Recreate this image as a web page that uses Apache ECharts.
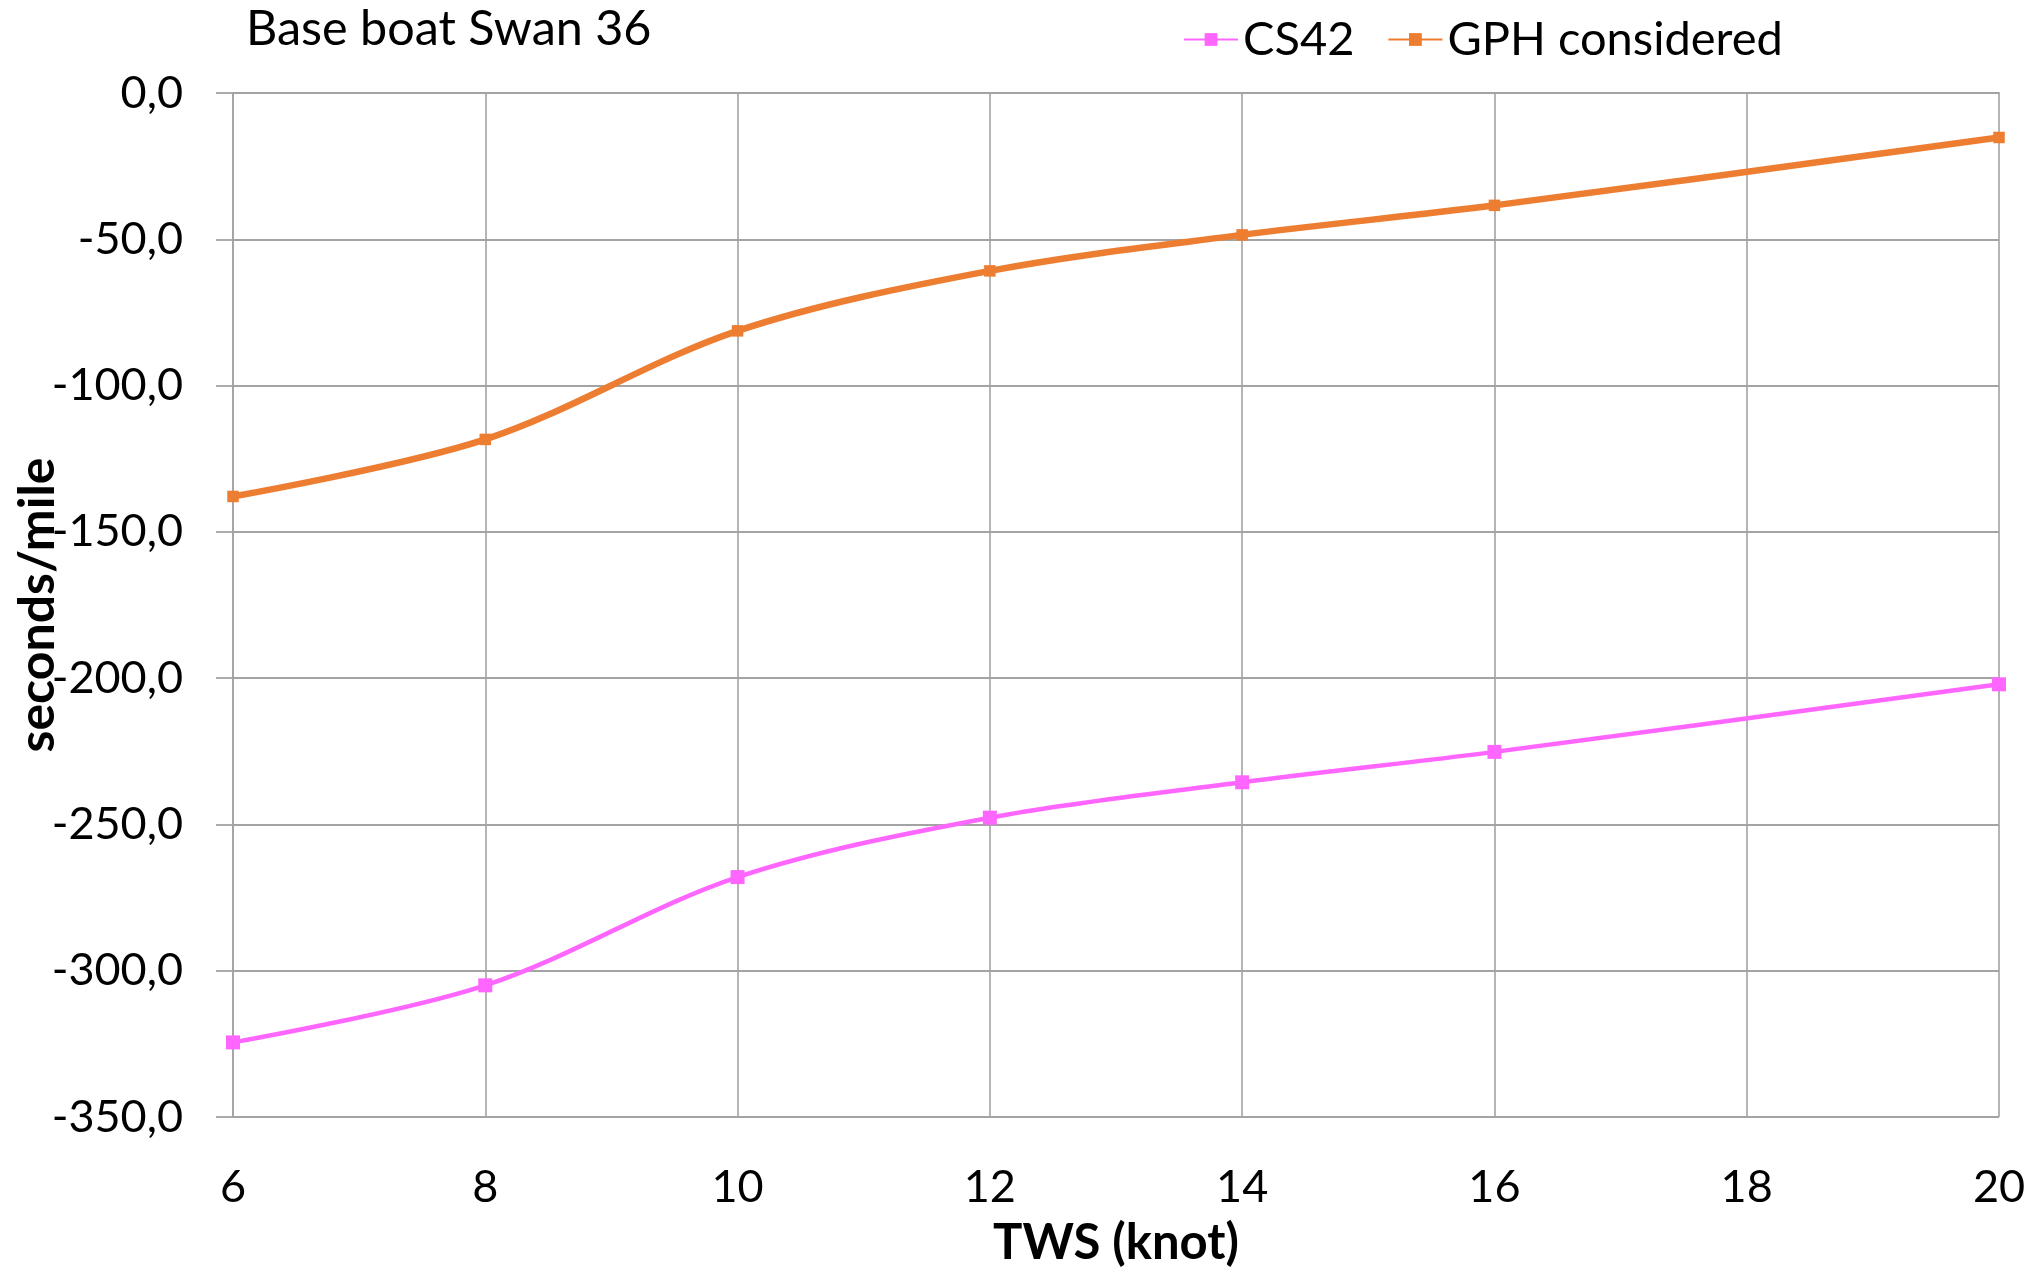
<!DOCTYPE html>
<html>
<head>
<meta charset="utf-8">
<script src="https://cdn.jsdelivr.net/npm/echarts@6/dist/echarts.min.js"></script>
<style>
html,body{margin:0;padding:0;background:#fff;}
#chart{width:2033px;height:1268px;}
</style>
</head>
<body>
<div id="chart"></div>
<script>
const chartTitle = "Base boat Swan 36";
const xName = "TWS (knot)";
const yName = "seconds/mile";
const tws = [6, 8, 10, 12, 14, 16, 20];
const cs42 = [-324.5, -305.0, -268.0, -247.7, -235.6, -225.2, -202.1];
const gphConsidered = [-137.9, -118.4, -81.3, -60.8, -48.5, -38.4, -15.2];
const seriesNames = ["CS42", "GPH considered"];

const FONT = "Lato";
const grid = "#a3a3a3";

const chart = echarts.init(document.getElementById('chart'));
chart.setOption({
  animation: false,
  backgroundColor: '#fff',
  title: {
    text: chartTitle, left: 246, top: 5, padding: 0,
    textStyle: {fontFamily: FONT, fontSize: 48.5, fontWeight: 'normal', color: '#000'}
  },
  legend: {
    left: 1183, top: 16, padding: 0, itemGap: 33, itemWidth: 54, itemHeight: 16,
    data: seriesNames,
    textStyle: {fontFamily: FONT, fontSize: 47, color: '#000'}
  },
  grid: {left: 233, right: 34, top: 93, bottom: 151, containLabel: false, outerBoundsMode: 'none'},
  xAxis: {
    type: 'value', min: 6, max: 20, interval: 2,
    name: xName, nameLocation: 'middle', nameGap: 102, nameMoveOverlap: false,
    nameTextStyle: {fontFamily: FONT, fontSize: 49, fontWeight: 'bold', color: '#000'},
    axisLine: {show: true, lineStyle: {color: grid, width: 1.8}},
    axisTick: {show: false},
    axisLabel: {fontFamily: FONT, fontSize: 45, color: '#000', margin: 48},
    splitLine: {show: true, lineStyle: {color: grid, width: 1.6}}
  },
  yAxis: {
    type: 'value', min: -350, max: 0, interval: 50,
    name: yName, nameLocation: 'middle', nameGap: 170, nameRotate: 90, nameMoveOverlap: false,
    nameTextStyle: {fontFamily: FONT, fontSize: 50, fontWeight: 'bold', color: '#000'},
    axisLine: {show: true, lineStyle: {color: grid, width: 1.8}},
    axisTick: {show: true, length: 17, inside: false, lineStyle: {color: grid, width: 1.8}},
    axisLabel: {
      fontFamily: FONT, fontSize: 45, color: '#000', margin: 50,
      formatter: v => v.toFixed(1).replace('.', ',')
    },
    splitLine: {show: true, lineStyle: {color: grid, width: 1.8}}
  },
  series: [
    {
      name: seriesNames[0], type: 'line', smooth: 0.33,
      data: tws.map((x, i) => [x, cs42[i]]),
      symbol: 'rect', symbolSize: 14, showSymbol: true,
      lineStyle: {color: '#ff66ff', width: 4.5},
      itemStyle: {color: '#ff66ff'}
    },
    {
      name: seriesNames[1], type: 'line', smooth: 0.33,
      data: tws.map((x, i) => [x, gphConsidered[i]]),
      symbol: 'rect', symbolSize: 11.5, showSymbol: true,
      lineStyle: {color: '#ed7d31', width: 6.5},
      itemStyle: {color: '#ed7d31'}
    }
  ]
});
</script>
</body>
</html>
